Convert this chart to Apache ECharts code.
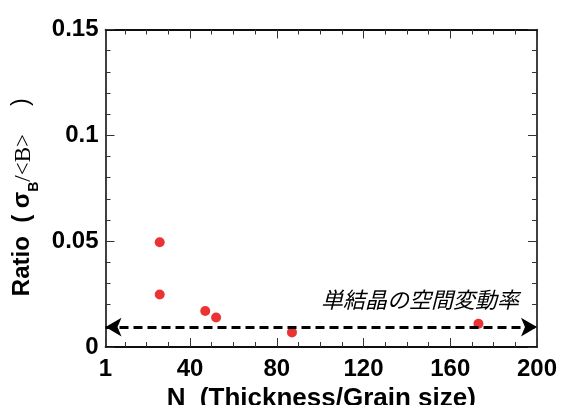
<!DOCTYPE html>
<html>
<head>
<meta charset="utf-8">
<script src="https://cdn.jsdelivr.net/npm/echarts@6/dist/echarts.min.js"></script>
<style>
  html, body { margin: 0; padding: 0; background: #fff; }
  #chart { width: 563px; height: 405px; }
</style>
</head>
<body>
<div id="chart"></div>
<script>
// values
const nValues = [26, 26, 47, 52, 87, 173];
const ratioValues = [0.0495, 0.0248, 0.017, 0.0139, 0.0069, 0.011];
const singleCrystalRatio = 0.0094;
const xRange = [1, 200];
const xMajorTicks = [1, 40, 80, 120, 160, 200];
const xMinorTicks = [10, 20, 30, 50, 60, 70, 90, 100, 110, 130, 140, 150, 170, 180, 190];
const yRange = [0, 0.15];
const yStep = 0.05;
const annotationText = '単結晶の空間変動率';

const sans = "'Liberation Sans', Arial, sans-serif";
const serif = "'Liberation Serif', 'Times New Roman', serif";

function xAxis(position, ticks, len, withLabel) {
  return {
    type: 'value',
    position: position,
    min: xRange[0],
    max: xRange[1],
    splitLine: { show: false },
    axisLine: { show: true, onZero: false, lineStyle: { color: '#000', width: 1.5 } },
    axisTick: { show: true, inside: true, length: len, customValues: ticks, lineStyle: { color: '#333', width: 1 } },
    axisLabel: {
      show: withLabel,
      customValues: xMajorTicks,
      margin: 10,
      color: '#000',
      fontFamily: sans,
      fontWeight: 'bold',
      fontSize: 24,
    },
  };
}

function yAxis(position, withLabel) {
  return {
    type: 'value',
    position: position,
    min: yRange[0],
    max: yRange[1],
    interval: yStep,
    splitLine: { show: false },
    axisLine: { show: true, onZero: false, lineStyle: { color: '#000', width: 1.5 } },
    axisTick: { show: true, inside: true, length: 9, lineStyle: { color: '#333', width: 1 } },
    minorTick: { show: true, splitNumber: 5, length: 5, lineStyle: { color: '#333', width: 1 } },
    axisLabel: {
      show: withLabel,
      margin: 7,
      color: '#000',
      fontFamily: sans,
      fontWeight: 'bold',
      fontSize: 24,
    },
  };
}

const chart = echarts.init(document.getElementById('chart'), null, { renderer: 'canvas' });

const xAxes = [
  xAxis('bottom', xMajorTicks, 9, true),
  xAxis('bottom', xMinorTicks, 5, false),
  xAxis('top', xMajorTicks, 9, false),
  xAxis('top', xMinorTicks, 5, false),
];
xAxes[0].name = 'N  (Thickness/Grain size)';
xAxes[0].nameLocation = 'middle';
xAxes[0].nameGap = 26;
xAxes[0].nameTextStyle = { color: '#000', fontFamily: sans, fontWeight: 'bold', fontSize: 26 };

const yAxes = [yAxis('left', true), yAxis('right', false)];
yAxes[0].name = '{b|Ratio  ( σ}{sub|B}{sl|/<B>}{p|)}';
yAxes[0].nameLocation = 'middle';
yAxes[0].nameRotate = 90;
yAxes[0].nameGap = 60;
yAxes[0].nameTextStyle = {
  color: '#000',
  rich: {
    b: { fontFamily: sans, fontWeight: 'bold', fontSize: 24, color: '#000', lineHeight: 28 },
    sub: { fontFamily: sans, fontWeight: 'bold', fontSize: 14, color: '#000', padding: [24, 0, 0, 0] },
    sl: { fontFamily: serif, fontSize: 23, color: '#000', padding: [5, 0, 0, 0] },
    p: { fontFamily: sans, fontSize: 23, color: '#000', padding: [0, 18, 0, 28] },
  },
};

chart.setOption({
  animation: false,
  backgroundColor: '#fff',
  grid: { left: 105.5, right: 26, top: 29.5, bottom: 58, containLabel: false, outerBoundsMode: 'none' },
  xAxis: xAxes,
  yAxis: yAxes,
  series: [
    {
      type: 'scatter',
      xAxisIndex: 0,
      yAxisIndex: 0,
      symbol: 'circle',
      symbolSize: 10,
      itemStyle: { color: '#e60000' },
      data: nValues.map((n, i) => [n, ratioValues[i]]),
      markLine: {
        silent: true,
        symbol: ['arrow', 'arrow'],
        symbolSize: [14, 16],
        lineStyle: { color: '#000', width: 3, type: [9, 5] },
        itemStyle: { color: '#000' },
        label: {
          show: true,
          position: 'insideEndTop',
          distance: [18, 16],
          formatter: annotationText,
          color: '#000',
          fontFamily: "'Noto Sans CJK JP', sans-serif",
          fontStyle: 'italic',
          fontSize: 22,
        },
        data: [[
          { coord: [xRange[0], singleCrystalRatio] },
          { coord: [xRange[1], singleCrystalRatio] },
        ]],
      },
    },
  ],
});
</script>
</body>
</html>
